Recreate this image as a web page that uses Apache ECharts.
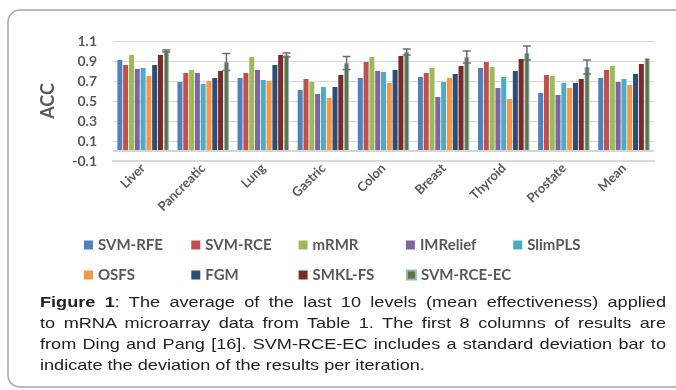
<!DOCTYPE html>
<html>
<head>
<meta charset="utf-8">
<script src="https://cdn.jsdelivr.net/npm/echarts@6/dist/echarts.min.js"></script>
<style>
  html, body { margin: 0; padding: 0; background: #fff; }
  #wrap { position: relative; width: 676px; height: 390px; overflow: hidden; }
  #chart { position: absolute; left: 0; top: 0; width: 676px; height: 390px; }
  /* caption text in the source is horizontally stretched, hence the scaleX */
  #caption {
    position: absolute; left: 40px; top: 292px; width: 500.8px;
    transform: scaleX(1.25); transform-origin: 0 0;
    font-family: "Liberation Sans", Arial, sans-serif; font-size: 14.5px;
    line-height: 21px; color: #222; white-space: nowrap;
  }
  #caption .j { text-align: justify; text-align-last: justify; }
</style>
</head>
<body>
<div id="wrap">
  <div id="chart"></div>
  <div id="caption">
    <div class="j"><b>Figure 1</b>: The average of the last 10 levels (mean effectiveness) applied</div>
    <div class="j">to mRNA microarray data from Table 1. The first 8 columns of results are</div>
    <div class="j">from Ding and Pang [16]. SVM-RCE-EC includes a standard deviation bar to</div>
    <div>indicate the deviation of the results per iteration.</div>
  </div>
</div>
<script>
// categories (datasets)
const categories = ['Liver', 'Pancreatic', 'Lung', 'Gastric', 'Colon', 'Breast', 'Thyroid', 'Prostate', 'Mean'];

// ACC per method
const svmRfe   = [0.91, 0.69, 0.73, 0.61, 0.73, 0.74, 0.83, 0.58, 0.73];
const svmRce   = [0.86, 0.78, 0.78, 0.72, 0.89, 0.78, 0.89, 0.76, 0.81];
const mrmr     = [0.96, 0.81, 0.94, 0.69, 0.94, 0.83, 0.84, 0.75, 0.85];
const imRelief = [0.82, 0.78, 0.81, 0.57, 0.80, 0.54, 0.63, 0.56, 0.69];
const slimPls  = [0.83, 0.67, 0.71, 0.64, 0.79, 0.69, 0.74, 0.68, 0.72];
const osfs     = [0.75, 0.70, 0.70, 0.53, 0.68, 0.73, 0.52, 0.63, 0.66];
const fgm      = [0.86, 0.73, 0.86, 0.64, 0.81, 0.77, 0.80, 0.68, 0.77];
const smklFs   = [0.96, 0.80, 0.96, 0.76, 0.95, 0.85, 0.92, 0.72, 0.87];
const svmRceEc = [1.00, 0.89, 0.96, 0.88, 0.99, 0.94, 0.98, 0.84, 0.93];
// std deviation of SVM-RCE-EC (Mean has none)
const svmRceEcStd = [0.01, 0.085, 0.02, 0.065, 0.03, 0.06, 0.07, 0.07, 0];

const yTicks = { min: -0.1, max: 1.1, step: 0.2 };

const seriesNames = ['SVM-RFE', 'SVM-RCE', 'mRMR', 'IMRelief', 'SlimPLS', 'OSFS', 'FGM', 'SMKL-FS', 'SVM-RCE-EC'];
const seriesData = [svmRfe, svmRce, mrmr, imRelief, slimPls, osfs, fgm, smklFs, svmRceEc];
const colors = ['#4F81BD', '#C0504D', '#9BBB59', '#8064A2', '#4BACC6', '#F79646', '#2C4D75', '#772C2A', '#5F7530'];

const barW = 5;
const barGapRatio = 0.16;
const ecOffset = 4 * barW * (1 + barGapRatio); // 9th bar sits 4 pitches right of group centre

const txt = '#595959';
const font = 'Lato, "Open Sans", sans-serif';

const chart = echarts.init(document.getElementById('chart'));

const barSeries = seriesNames.map((name, k) => {
  const s = {
    name: name,
    type: 'bar',
    data: seriesData[k],
    barWidth: barW,
    barGap: (barGapRatio * 100) + '%',
    itemStyle: { color: colors[k] },
    emphasis: { disabled: true }
  };
  if (name === 'SVM-RCE-EC') {
    s.itemStyle.borderColor = '#95B3D7';
    s.itemStyle.borderWidth = 1;
  }
  return s;
});

// horizontal line at 0 (category axis crossing)
barSeries[0].markLine = {
  silent: true,
  symbol: 'none',
  label: { show: false },
  lineStyle: { color: '#d4d4d4', width: 2, type: 'solid' },
  data: [{ yAxis: 0 }]
};

const errData = svmRceEc
  .map((v, i) => [i, v - svmRceEcStd[i], v + svmRceEcStd[i]])
  .filter((d, i) => svmRceEcStd[i] > 0);

const errSeries = {
  type: 'custom',
  name: 'std',
  silent: true,
  z: 10,
  data: errData,
  encode: { x: 0, y: [1, 2] },
  renderItem: function (params, api) {
    const lo = api.coord([api.value(0), api.value(1)]);
    const hi = api.coord([api.value(0), api.value(2)]);
    const x = lo[0] + ecOffset;
    const cap = 4;
    const style = { stroke: '#6d6d6d', lineWidth: 1.5 };
    return {
      type: 'group',
      children: [
        { type: 'line', shape: { x1: x, y1: lo[1], x2: x, y2: hi[1] }, style: style },
        { type: 'line', shape: { x1: x - cap, y1: hi[1], x2: x + cap, y2: hi[1] }, style: style },
        { type: 'line', shape: { x1: x - cap, y1: lo[1], x2: x + cap, y2: lo[1] }, style: style }
      ]
    };
  }
};

const legendCommon = {
  left: 84,
  padding: 0,
  itemWidth: 9,
  itemHeight: 9,
  itemGap: 10.3,
  icon: 'rect',
  selectedMode: false,
  textStyle: { color: txt, fontFamily: font, fontWeight: 'bold', fontSize: 15, width: 83, lineHeight: 18 }
};

const option = {
  animation: false,
  color: colors,
  graphic: [{
    type: 'rect',
    shape: { x: 8, y: 10, width: 720, height: 377, r: 12 },
    style: { fill: 'none', stroke: '#a6a6a6', lineWidth: 1.5 },
    silent: true,
    z: -10
  }],
  legend: [
    Object.assign({}, legendCommon, { top: 236, data: seriesNames.slice(0, 5) }),
    Object.assign({}, legendCommon, { top: 266, data: seriesNames.slice(5) })
  ],
  grid: { left: 113, right: 22, top: 41, bottom: 229 },
  xAxis: {
    type: 'category',
    data: categories,
    axisLine: { onZero: false, lineStyle: { color: '#d9d9d9', width: 2 } },
    axisTick: { show: false },
    axisLabel: {
      interval: 0,
      rotate: 45,
      margin: 5,
      color: txt,
      fontFamily: font,
      fontWeight: 'bold',
      fontSize: 13
    }
  },
  yAxis: {
    type: 'value',
    min: yTicks.min,
    max: yTicks.max,
    interval: yTicks.step,
    name: 'ACC',
    nameLocation: 'middle',
    nameGap: 56,
    nameTextStyle: { color: txt, fontFamily: font, fontWeight: 'bold', fontSize: 18 },
    axisLine: { show: false },
    axisTick: { show: false },
    splitLine: { lineStyle: { color: '#d9d9d9', width: 1 } },
    axisLabel: {
      margin: 16,
      color: txt,
      fontFamily: font,
      fontWeight: 'bold',
      fontSize: 14,
      formatter: v => v.toFixed(1)
    }
  },
  series: barSeries.concat([errSeries])
};

chart.setOption(option);
</script>
</body>
</html>
